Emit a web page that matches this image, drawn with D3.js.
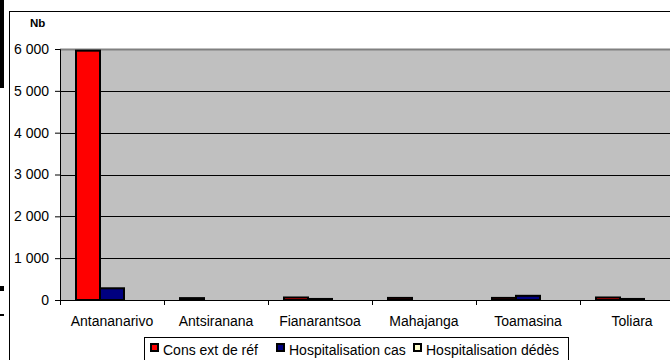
<!DOCTYPE html>
<html><head><meta charset="utf-8">
<script src="https://cdn.jsdelivr.net/npm/d3@7"></script>
<style>body{margin:0;background:#fff}svg{display:block}text{font-family:"Liberation Sans",Arial,sans-serif}</style>
</head><body><svg id="c" width="670" height="360"></svg>
<script>
const categories = ["Antananarivo","Antsiranana","Fianarantsoa","Mahajanga","Toamasina","Toliara"];
const seriesNames = ["Cons ext de réf","Hospitalisation cas","Hospitalisation dédès"];
const consExt = [5960, 45, 60, 50, 50, 60];
const hospCas = [280, 0, 25, 0, 100, 25];
const hospDeces = [0, 0, 0, 0, 0, 0];
const colors = ["#ff0000","#000080","#ffffcc"];
const yTicks = [0,1000,2000,3000,4000,5000,6000];
const yTickLabels = ["0","1 000","2 000","3 000","4 000","5 000","6 000"];

(function(){
const svg = d3.select("#c");
const pL = 60, pR = 684, pT = 49, pB = 300;
const FONT = "Liberation Sans, Arial, sans-serif";
const x = d3.scaleBand().domain(categories).range([pL, pR]);
const inner = d3.scaleBand().domain(seriesNames).range([16, x.bandwidth()-16]);
const y = d3.scaleLinear().domain([0,6000]).range([pB, pT]);

// artifacts / frame
svg.append("rect").attr("x",0).attr("y",0).attr("width",4).attr("height",88).attr("fill","#000");
svg.append("rect").attr("x",0).attr("y",286).attr("width",4).attr("height",5).attr("fill","#000");
svg.append("rect").attr("x",0).attr("y",314).attr("width",4).attr("height",2).attr("fill","#000");
svg.append("line").attr("x1",9.5).attr("x2",9.5).attr("y1",11).attr("y2",360).attr("stroke","#000");
svg.append("line").attr("x1",9).attr("x2",670).attr("y1",11.5).attr("y2",11.5).attr("stroke","#000");

// plot area
svg.append("rect").attr("x",pL).attr("y",pT).attr("width",pR-pL).attr("height",pB-pT).attr("fill","#c0c0c0");
svg.append("line").attr("x1",pL).attr("x2",pR).attr("y1",pT+0.5).attr("y2",pT+0.5).attr("stroke","#808080").attr("stroke-width",2);
svg.append("g").selectAll("line").data(yTicks.filter(d=>d>0&&d<6000)).join("line")
  .attr("x1",pL).attr("x2",pR).attr("y1",d=>Math.round(y(d))+0.5).attr("y2",d=>Math.round(y(d))+0.5)
  .attr("stroke","#000");

// bars
const data = [consExt, hospCas, hospDeces];
const g = svg.append("g");
categories.forEach((c,i)=>{
  seriesNames.forEach((s,j)=>{
    const v = data[j][i];
    if (v<=0) return;
    g.append("rect").attr("x",x(c)+inner(s)).attr("width",inner.bandwidth())
      .attr("y",y(v)).attr("height",pB-y(v))
      .attr("fill",colors[j]).attr("stroke","#000").attr("stroke-width",2);
  });
});

// y axis
const ya = svg.append("g").attr("transform",`translate(${pL},0)`)
  .call(d3.axisLeft(y).tickValues(yTicks).tickFormat((d,i)=>yTickLabels[i]).tickSize(5).tickPadding(6));
ya.select(".domain").attr("stroke","#000");
ya.selectAll("text").attr("font-size",14).attr("fill","#000").attr("font-family",FONT);

// x axis
const xa = svg.append("g").attr("transform",`translate(0,${pB})`)
  .call(d3.axisBottom(x).tickSize(0).tickPadding(16));
xa.select(".domain").attr("d",`M${pL},0.5H${pR}`).attr("stroke","#000");
xa.selectAll("text").attr("font-size",14).attr("fill","#000").attr("font-family",FONT);
svg.append("g").selectAll("line").data(categories).join("line")
  .attr("x1",d=>Math.round(x(d))+0.5).attr("x2",d=>Math.round(x(d))+0.5)
  .attr("y1",pB).attr("y2",pB+5).attr("stroke","#000");

// Nb label
svg.append("text").attr("x",30).attr("y",27).attr("font-size",11.5).attr("font-weight","bold").text("Nb");

// legend
const lg = svg.append("g");
lg.append("rect").attr("x",144.5).attr("y",337.5).attr("width",424).attr("height",26).attr("fill","#fff").attr("stroke","#000");
const lx = [150, 276, 413];
seriesNames.forEach((s,j)=>{
  lg.append("rect").attr("x",lx[j]+1).attr("y",344).attr("width",7).attr("height",7).attr("fill",colors[j]).attr("stroke","#000").attr("stroke-width",2);
  lg.append("text").attr("x",lx[j]+13).attr("y",355).attr("font-size",14).text(s);
});
})();
</script></body></html>
